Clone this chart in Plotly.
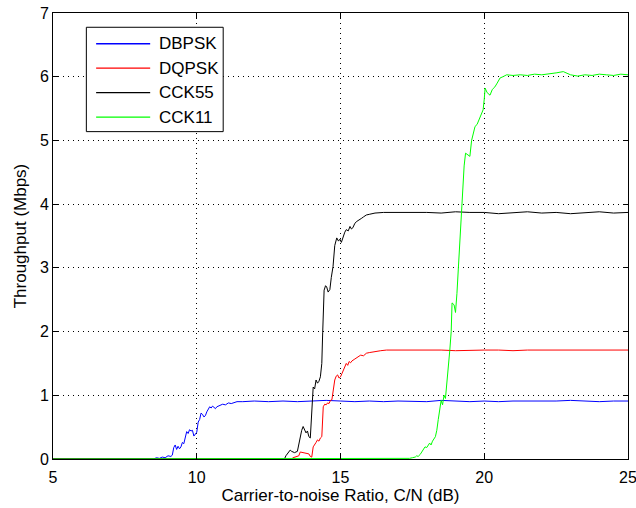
import plotly.graph_objects as go

# Throughput vs carrier-to-noise ratio for four 802.11b modulation modes
dbpsk_x = [5.0, 8.5, 8.6, 8.7, 8.8, 8.9, 9.0, 9.1, 9.15, 9.2, 9.25, 9.3, 9.35, 9.4, 9.45, 9.5,
           9.55, 9.6, 9.65, 9.7, 9.75, 9.8, 9.85, 9.9, 9.95, 10.0, 10.05, 10.1, 10.15, 10.2,
           10.25, 10.3, 10.35, 10.4, 10.45, 10.5, 10.55, 10.6, 10.65, 10.7, 10.8, 10.9, 11.0,
           11.1, 11.2, 11.3, 11.4, 11.6, 11.8,
           12.0, 12.5, 13.0, 13.5, 14.0, 14.5, 15.0, 15.5, 16.0, 16.5, 17.0, 17.5, 18.0, 18.5,
           19.0, 19.5, 20.0, 20.5, 21.0, 21.5, 22.0, 22.5, 23.0, 23.5, 24.0, 24.5, 25.0]
dbpsk_y = [0, 0, 0.02, 0.01, 0.03, 0.02, 0.05, 0.04, 0.06, 0.18, 0.22, 0.15, 0.20, 0.16, 0.19, 0.26,
           0.24, 0.33, 0.43, 0.40, 0.46, 0.44, 0.45, 0.36, 0.40, 0.42, 0.58, 0.62, 0.72, 0.70,
           0.66, 0.68, 0.74, 0.79, 0.82, 0.80, 0.83, 0.81, 0.79, 0.82, 0.84, 0.86, 0.85,
           0.88, 0.87, 0.89, 0.90, 0.90, 0.91,
           0.91, 0.90, 0.91, 0.90, 0.91, 0.92, 0.91, 0.90, 0.91, 0.90, 0.91, 0.91, 0.90, 0.92,
           0.91, 0.90, 0.91, 0.90, 0.91, 0.91, 0.90, 0.91, 0.92, 0.91, 0.90, 0.91, 0.91]

dqpsk_x = [5.0, 13.3, 13.35, 13.45, 13.55, 13.6, 13.7, 13.8, 13.9, 13.95, 14.0, 14.05, 14.1,
           14.15, 14.2, 14.25, 14.3, 14.35, 14.4, 14.45, 14.5, 14.55, 14.6, 14.65, 14.7, 14.75,
           14.8, 14.85, 14.9, 14.95, 15.0, 15.05, 15.1, 15.15, 15.2, 15.25, 15.3, 15.35, 15.4,
           15.5, 15.6, 15.7, 15.8, 15.9, 16.0, 16.2, 16.4, 16.6,
           17.0, 17.5, 18.0, 18.5, 19.0, 19.5, 20.0, 20.5, 21.0, 21.5, 22.0, 22.5, 23.0, 23.5,
           24.0, 24.5, 25.0]
dqpsk_y = [0, 0, 0.02, 0.03, 0.05, 0.11, 0.10, 0.08, 0.08, 0.04, 0.03, 0.19, 0.22,
           0.26, 0.30, 0.28, 0.33, 0.35, 0.82, 0.86, 0.85, 0.88, 0.87, 0.92, 0.93, 1.10,
           1.24, 1.30, 1.32, 1.27, 1.29, 1.34, 1.40, 1.46, 1.50, 1.47, 1.53, 1.51, 1.54,
           1.57, 1.60, 1.63, 1.62, 1.66, 1.67, 1.69, 1.70, 1.71,
           1.71, 1.72, 1.71, 1.71, 1.70, 1.71, 1.71, 1.71, 1.70, 1.71, 1.71, 1.70, 1.71, 1.71,
           1.71, 1.70, 1.71]

cck55_x = [5.0, 13.05, 13.1, 13.2, 13.25, 13.3, 13.4, 13.5, 13.55, 13.6, 13.65, 13.7, 13.75,
           13.8, 13.85, 13.9, 13.95, 14.0, 14.05, 14.1, 14.15, 14.2, 14.25, 14.3, 14.35, 14.38,
           14.43, 14.48, 14.52, 14.57, 14.63, 14.68, 14.74, 14.8, 14.87, 14.93, 14.98, 15.03,
           15.09, 15.15, 15.2, 15.27, 15.33, 15.38, 15.43, 15.5, 15.57, 15.65, 15.74, 15.8,
           15.9, 16.0, 16.2, 16.5,
           17.0, 17.5, 18.0, 18.5, 19.0, 19.5, 20.0, 20.5, 21.0, 21.5, 22.0, 22.5, 23.0, 23.5,
           24.0, 24.5, 25.0]
cck55_y = [0, 0, 0.05, 0.10, 0.14, 0.12, 0.10, 0.12, 0.25, 0.38, 0.45, 0.51, 0.46,
           0.41, 0.44, 0.35, 0.33, 0.77, 1.13, 1.10, 1.24, 1.19, 1.22, 1.29, 1.50, 1.98,
           2.65, 2.72, 2.70, 2.62, 2.66, 2.85, 3.02, 3.35, 3.47, 3.42, 3.45, 3.40,
           3.49, 3.56, 3.60, 3.58, 3.65, 3.61, 3.63, 3.70, 3.73, 3.76, 3.78, 3.80,
           3.83, 3.84, 3.86, 3.87,
           3.87, 3.88, 3.87, 3.86, 3.88, 3.87, 3.87, 3.85, 3.87, 3.88, 3.86, 3.87, 3.85, 3.87,
           3.88, 3.86, 3.87]

cck11_x = [5.0, 17.3, 17.4, 17.5, 17.6, 17.65, 17.7, 17.77, 17.85, 17.94, 18.0, 18.05, 18.1,
           18.15, 18.2, 18.3, 18.35, 18.4, 18.45, 18.5, 18.55, 18.6, 18.65, 18.7, 18.75, 18.8,
           18.85, 18.88, 18.95, 19.0, 19.05, 19.1, 19.15, 19.2, 19.25, 19.3, 19.35, 19.42,
           19.5, 19.56, 19.62, 19.68, 19.75, 19.85, 19.9, 19.96, 20.0, 20.03, 20.1, 20.2,
           20.28, 20.37, 20.45, 20.55, 20.65, 20.78,
           21.0, 21.25, 21.5, 21.75, 22.0, 22.25, 22.5, 22.75, 23.0, 23.25, 23.5, 23.75,
           24.0, 24.25, 24.5, 24.75, 25.0]
cck11_y = [0, 0, 0.01, 0.02, 0.03, 0.05, 0.04, 0.07, 0.12, 0.19, 0.18, 0.22, 0.25,
           0.22, 0.28, 0.35, 0.45, 0.62, 0.82, 0.92, 0.85, 1.00, 0.95, 1.20, 1.35, 1.70,
           2.00, 2.45, 2.42, 2.30, 2.60, 3.02, 3.40, 3.86, 4.30, 4.60, 4.80, 4.78,
           4.75, 5.00, 5.10, 5.22, 5.25, 5.35, 5.42, 5.48, 5.65, 5.82, 5.75, 5.71,
           5.80, 5.84, 5.90, 5.98, 6.00, 6.03,
           6.02, 6.03, 6.02, 6.04, 6.03, 6.04, 6.06, 6.08, 6.03, 6.01, 6.03, 6.02,
           6.04, 6.03, 6.02, 6.04, 6.03]

x_ticks = [5, 10, 15, 20, 25]
y_ticks = [0, 1, 2, 3, 4, 5, 6, 7]

series_names = ["DBPSK", "DQPSK", "CCK55", "CCK11"]
series_x = [dbpsk_x, dqpsk_x, cck55_x, cck11_x]
series_y = [dbpsk_y, dqpsk_y, cck55_y, cck11_y]
series_colors = ["#0000ff", "#ff0000", "#000000", "#00ff00"]

FONT_FAMILY = "Liberation Sans, Arial, sans-serif"
tick_font = dict(family=FONT_FAMILY, size=16, color="#000000")
title_font = dict(family=FONT_FAMILY, size=17, color="#000000")

fig = go.Figure()
for name, xs, ys, color in zip(series_names, series_x, series_y, series_colors):
    fig.add_trace(go.Scatter(x=xs, y=ys, mode="lines", name=name, showlegend=False,
                             line=dict(color=color, width=1)))

axis_common = dict(
    showline=True, linecolor="#000000", linewidth=1, mirror="allticks",
    ticks="inside", ticklen=5, tickcolor="#000000", tickwidth=1,
    showgrid=True, gridcolor="#000000", gridwidth=1, griddash="1px,4px",
    zeroline=False, tickfont=tick_font, automargin=False,
    ticklabeloverflow="allow",
)

# MATLAB-style boxed legend in the upper-left corner (paper coordinates)
box_x0, box_x1 = 0.058, 0.296
box_y0, box_y1 = 0.734, 0.968
row_top, row_step = 0.931, 0.0548
line_x0, line_x1 = 0.075, 0.169
text_x = 0.181

shapes = [dict(type="rect", xref="paper", yref="paper",
               x0=box_x0, x1=box_x1, y0=box_y0, y1=box_y1,
               line=dict(color="#000000", width=1), fillcolor="#ffffff", layer="above")]
annotations = []
for i, (name, color) in enumerate(zip(series_names, series_colors)):
    ry = row_top - i * row_step
    shapes.append(dict(type="line", xref="paper", yref="paper",
                       x0=line_x0, x1=line_x1, y0=ry, y1=ry,
                       line=dict(color=color, width=1.3), layer="above"))
    annotations.append(dict(xref="paper", yref="paper", x=text_x, y=ry, text=name,
                            showarrow=False, xanchor="left", yanchor="middle",
                            font=title_font))

fig.update_layout(
    width=636, height=508,
    margin=dict(l=53, r=8, t=13, b=49),
    paper_bgcolor="#ffffff", plot_bgcolor="#ffffff",
    font=tick_font,
    showlegend=False,
    xaxis=dict(range=[5, 25], tickvals=x_ticks, ticklabelstandoff=4,
               title=dict(text="Carrier-to-noise Ratio, C/N (dB)", font=title_font, standoff=2),
               **axis_common),
    yaxis=dict(range=[0, 7], tickvals=y_ticks,
               title=dict(text="Throughput (Mbps)", font=title_font, standoff=8),
               **axis_common),
    shapes=shapes,
    annotations=annotations,
)

fig.write_html("out.html")
